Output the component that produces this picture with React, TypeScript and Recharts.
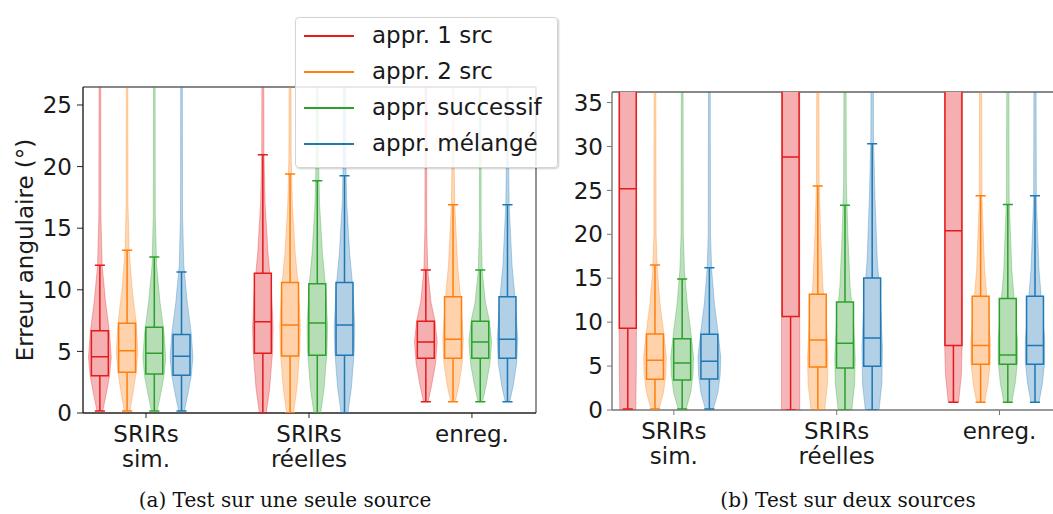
import React from 'react';
import { ComposedChart, Scatter, XAxis, YAxis, ReferenceLine } from 'recharts';

const seriesNames = ['appr. 1 src', 'appr. 2 src', 'appr. successif', 'appr. mélangé'];
const seriesColors = ['#e41a1c', '#ff7f0e', '#2ca02c', '#1f77b4'];
const seriesLight = ['#f5afb0', '#ffd2ab', '#b5deb5', '#b1cfe5'];
const groupPositions = [1, 2, 3];
const groupLabels = [['SRIRs', 'sim.'], ['SRIRs', 'réelles'], ['enreg.']];
const yTicksA = [0, 5, 10, 15, 20, 25];
const yTicksB = [0, 5, 10, 15, 20, 25, 30, 35];

// box stats per group: [whisker low, q1, median, q3, whisker high]
const statsA1src = [[0.16, 3.03, 4.57, 6.68, 12.0], [0, 4.84, 7.41, 11.34, 20.97], [0.92, 4.44, 5.76, 7.44, 11.6]];
const statsA2src = [[0.16, 3.3, 5.06, 7.28, 13.2], [0, 4.63, 7.14, 10.6, 19.4], [0.92, 4.44, 5.98, 9.44, 16.9]];
const statsASucc = [[0.16, 3.17, 4.84, 6.95, 12.66], [0, 4.68, 7.3, 10.5, 18.86], [0.92, 4.44, 5.76, 7.44, 11.6]];
const statsAMel = [[0.16, 3.06, 4.6, 6.38, 11.44], [0, 4.68, 7.14, 10.6, 19.26], [0.92, 4.44, 5.98, 9.44, 16.9]];

const statsB1src = [[0.1, 9.3, 25.2, 44, 70], [0, 10.63, 28.8, 48, 75], [0.87, 7.33, 20.4, 40, 68]];
const statsB2src = [[0.1, 3.5, 5.66, 8.66, 16.5], [0, 4.9, 7.97, 13.17, 25.5], [0.87, 5.2, 7.33, 12.95, 24.4]];
const statsBSucc = [[0.1, 3.42, 5.35, 8.12, 14.92], [0, 4.78, 7.6, 12.3, 23.3], [0.87, 5.2, 6.26, 12.7, 23.4]];
const statsBMel = [[0.1, 3.53, 5.54, 8.62, 16.2], [0, 4.98, 8.2, 15.03, 30.3], [0.87, 5.2, 7.33, 12.95, 24.4]];

// violin outlines: [value, relative half-width]
const violinASim = [[0.16, 0.25], [1.5, 0.55], [3, 0.85], [4.5, 1], [6.5, 0.85], [9, 0.5], [12, 0.2], [16, 0.09], [40, 0.05]];
const violinASim2 = [[0.16, 0.25], [1.5, 0.5], [3.3, 0.8], [5, 0.95], [7.3, 0.8], [10, 0.45], [13.2, 0.18], [17, 0.08], [40, 0.05]];
const violinAReel = [[0, 0.3], [2, 0.6], [5, 0.85], [7, 0.9], [10, 0.75], [13, 0.45], [17, 0.2], [21, 0.1], [40, 0.05]];
const violinAEnreg = [[0.92, 0.2], [2.2, 0.5], [4, 0.85], [5.8, 1], [7.5, 0.8], [9, 0.45], [11.6, 0.17], [15, 0.08], [40, 0.05]];
const violinAEnregWide = [[0.92, 0.2], [2.2, 0.5], [4, 0.8], [6, 0.9], [9, 0.7], [12, 0.4], [16.9, 0.15], [22, 0.07], [40, 0.05]];

const violinBSim1src = [[0, 0.7], [5, 0.75], [20, 0.78], [60, 0.75]];
const violinBSim = [[0.1, 0.35], [2, 0.75], [4, 0.95], [6, 1], [9, 0.75], [12, 0.45], [16, 0.2], [20, 0.1], [60, 0.05]];
const violinBReel1src = [[0, 0.8], [60, 0.8]];
const violinBReel = [[0, 0.6], [3, 0.85], [6, 0.9], [10, 0.75], [14, 0.45], [20, 0.25], [26, 0.12], [60, 0.05]];
const violinBReelMel = [[0, 0.6], [3, 0.85], [7, 0.9], [12, 0.75], [17, 0.45], [24, 0.25], [31, 0.12], [60, 0.05]];
const violinBEnreg1src = [[0.87, 0.45], [4, 0.7], [8, 0.78], [60, 0.75]];
const violinBEnreg = [[0.87, 0.35], [3, 0.65], [5.5, 0.85], [8, 0.85], [12, 0.6], [16, 0.35], [24, 0.12], [60, 0.05]];

const statsA = [statsA1src, statsA2src, statsASucc, statsAMel];
const statsB = [statsB1src, statsB2src, statsBSucc, statsBMel];
const violinsA = [
  [violinASim, violinAReel, violinAEnreg],
  [violinASim2, violinAReel, violinAEnregWide],
  [violinASim, violinAReel, violinAEnreg],
  [violinASim, violinAReel, violinAEnregWide],
];
const violinsB = [
  [violinBSim1src, violinBReel1src, violinBEnreg1src],
  [violinBSim, violinBReel, violinBEnreg],
  [violinBSim, violinBReel, violinBEnreg],
  [violinBSim, violinBReelMel, violinBEnreg],
];

const SERIES_OFFSETS = [-0.283, -0.116, 0.051, 0.218];
const BOX_HALF = 0.052;
const CAP_HALF = 0.031;
const VIOLIN_HALF = 0.07;
const FONT = 'DejaVu Sans, sans-serif';

const hidePoint = () => <g />;

function violinPoints(profile: number[][], c: number) {
  const right = profile.map(([v, d]) => ({ x: c + d * VIOLIN_HALF, y: v }));
  const left = [...profile].reverse().map(([v, d]) => ({ x: c - d * VIOLIN_HALF, y: v }));
  return [...right, ...left];
}

function whiskerPoints(s: number[], c: number) {
  const [lo, , , , hi] = s;
  return [
    { x: c - CAP_HALF, y: lo }, { x: c + CAP_HALF, y: lo }, { x: c, y: lo },
    { x: c, y: hi }, { x: c - CAP_HALF, y: hi }, { x: c + CAP_HALF, y: hi },
  ];
}

function boxPoints(s: number[], c: number) {
  const [, q1, med, q3] = s;
  return [
    { x: c - BOX_HALF, y: med }, { x: c + BOX_HALF, y: med }, { x: c + BOX_HALF, y: q1 },
    { x: c - BOX_HALF, y: q1 }, { x: c - BOX_HALF, y: q3 }, { x: c + BOX_HALF, y: q3 },
    { x: c + BOX_HALF, y: med },
  ];
}

function GroupTick(props: any) {
  const { x, y, payload } = props;
  const lines = groupLabels[groupPositions.indexOf(payload.value)] || [];
  return (
    <text x={x} y={y} textAnchor="middle" fontSize={23} fill="#1a1a1a" fontFamily={FONT}>
      {lines.map((l, i) => (
        <tspan key={i} x={x} dy={i === 0 ? 22 : 25}>{l}</tspan>
      ))}
    </text>
  );
}

interface PanelProps {
  left: number;
  width: number;
  height: number;
  margin: { top: number; right: number; bottom: number; left: number };
  yAxisWidth: number;
  xAxisHeight: number;
  xDomain: [number, number];
  yDomain: [number, number];
  yTicks: number[];
  stats: number[][][];
  violins: number[][][][];
  yLabel?: string;
  axisColor: string;
  frameColor: string;
  rightSpine: boolean;
  tickSize: number;
  tickMargin: number;
}

function Panel(p: PanelProps) {
  const items: React.ReactNode[] = [];
  groupPositions.forEach((g, gi) => {
    seriesColors.forEach((color, si) => {
      const c = g + SERIES_OFFSETS[si];
      const s = p.stats[si][gi];
      items.push(
        <Scatter key={`v-${gi}-${si}`} data={violinPoints(p.violins[si][gi], c)} fill={color}
          shape={hidePoint} isAnimationActive={false}
          line={{ stroke: color, strokeOpacity: 0.3, strokeWidth: 1, fill: color, fillOpacity: 0.32 }} />,
        <Scatter key={`w-${gi}-${si}`} data={whiskerPoints(s, c)} fill={color}
          shape={hidePoint} isAnimationActive={false}
          line={{ stroke: color, strokeWidth: 1.5, fill: 'none' }} />,
        <Scatter key={`b-${gi}-${si}`} data={boxPoints(s, c)} fill={color}
          shape={hidePoint} isAnimationActive={false}
          line={{ stroke: color, strokeWidth: 1.5, fill: seriesLight[si] }} />,
      );
    });
  });
  return (
    <div style={{ position: 'absolute', left: p.left, top: 0 }}>
      <ComposedChart width={p.width} height={p.height} margin={p.margin}>
        <XAxis type="number" dataKey="x" domain={p.xDomain} allowDataOverflow ticks={groupPositions}
          interval={0} height={p.xAxisHeight} tickSize={5} tickMargin={2}
          axisLine={{ stroke: p.axisColor, strokeWidth: 1.4 }} tickLine={{ stroke: p.axisColor }}
          tick={(t: any) => <GroupTick {...t} />} />
        <YAxis type="number" dataKey="y" domain={p.yDomain} allowDataOverflow ticks={p.yTicks}
          interval={0} width={p.yAxisWidth} tickSize={p.tickSize} tickMargin={p.tickMargin}
          axisLine={{ stroke: p.axisColor, strokeWidth: 1.4 }} tickLine={{ stroke: p.axisColor }}
          tick={{ fontSize: 23, fill: '#1a1a1a', fontFamily: FONT }}
          label={p.yLabel ? {
            value: p.yLabel, angle: -90, position: 'insideLeft', offset: 25,
            style: { textAnchor: 'middle', fontSize: 23, fill: '#1a1a1a', fontFamily: FONT },
          } : undefined} />
        {items}
        <ReferenceLine y={p.yDomain[1]} stroke={p.frameColor} strokeWidth={1.8} ifOverflow="visible" />
        {p.rightSpine && <ReferenceLine x={p.xDomain[1]} stroke={p.frameColor} strokeWidth={1.8} ifOverflow="visible" />}
      </ComposedChart>
    </div>
  );
}

function LegendBox() {
  return (
    <div style={{
      position: 'absolute', left: 295, top: 17, width: 263, height: 151, boxSizing: 'border-box',
      border: '1px solid #d4d4d4', borderRadius: 4, background: 'rgba(255,255,255,0.82)',
      boxShadow: '1px 1px 2px rgba(0,0,0,0.2)', fontFamily: FONT, fontSize: 23, color: '#1a1a1a',
    }}>
      {seriesNames.map((name, i) => (
        <div key={name} style={{ position: 'absolute', left: 0, top: i * 36, height: 36, width: '100%' }}>
          <svg width={60} height={36} style={{ position: 'absolute', left: 0, top: 0 }}>
            <line x1={8} x2={58} y1={18} y2={18} stroke={seriesColors[i]} strokeWidth={2} />
          </svg>
          <span style={{ position: 'absolute', left: 76, top: 3, lineHeight: '28px', whiteSpace: 'nowrap' }}>{name}</span>
        </div>
      ))}
    </div>
  );
}

const captionStyle: React.CSSProperties = {
  position: 'absolute', top: 488, width: 420, textAlign: 'center',
  fontFamily: 'DejaVu Serif, serif', fontSize: 20, lineHeight: '24px', color: '#111',
};

export default function App() {
  return (
    <div style={{ position: 'fixed', left: 0, top: 0, width: 1053, height: 514, overflow: 'hidden', background: '#fff' }}>
      <Panel left={0} width={560} height={480} margin={{ top: 87, right: 24, bottom: 0, left: 0 }}
        yAxisWidth={83} xAxisHeight={67} xDomain={[0.6135, 3.393]} yDomain={[0, 26.46]} yTicks={yTicksA}
        stats={statsA} violins={violinsA} yLabel="Erreur angulaire (°)" axisColor="#222" frameColor="#888"
        rightSpine tickSize={6} tickMargin={5} />
      <Panel left={560} width={520} height={480} margin={{ top: 92, right: 17, bottom: 0, left: 0 }}
        yAxisWidth={52} xAxisHeight={70} xDomain={[0.62, 3.39]} yDomain={[0, 36.2]} yTicks={yTicksB}
        stats={statsB} violins={violinsB} axisColor="#777" frameColor="#888"
        rightSpine={false} tickSize={5} tickMargin={4} />
      <LegendBox />
      <div style={{ ...captionStyle, left: 75 }}>(a) Test sur une seule source</div>
      <div style={{ ...captionStyle, left: 638 }}>(b) Test sur deux sources</div>
    </div>
  );
}
